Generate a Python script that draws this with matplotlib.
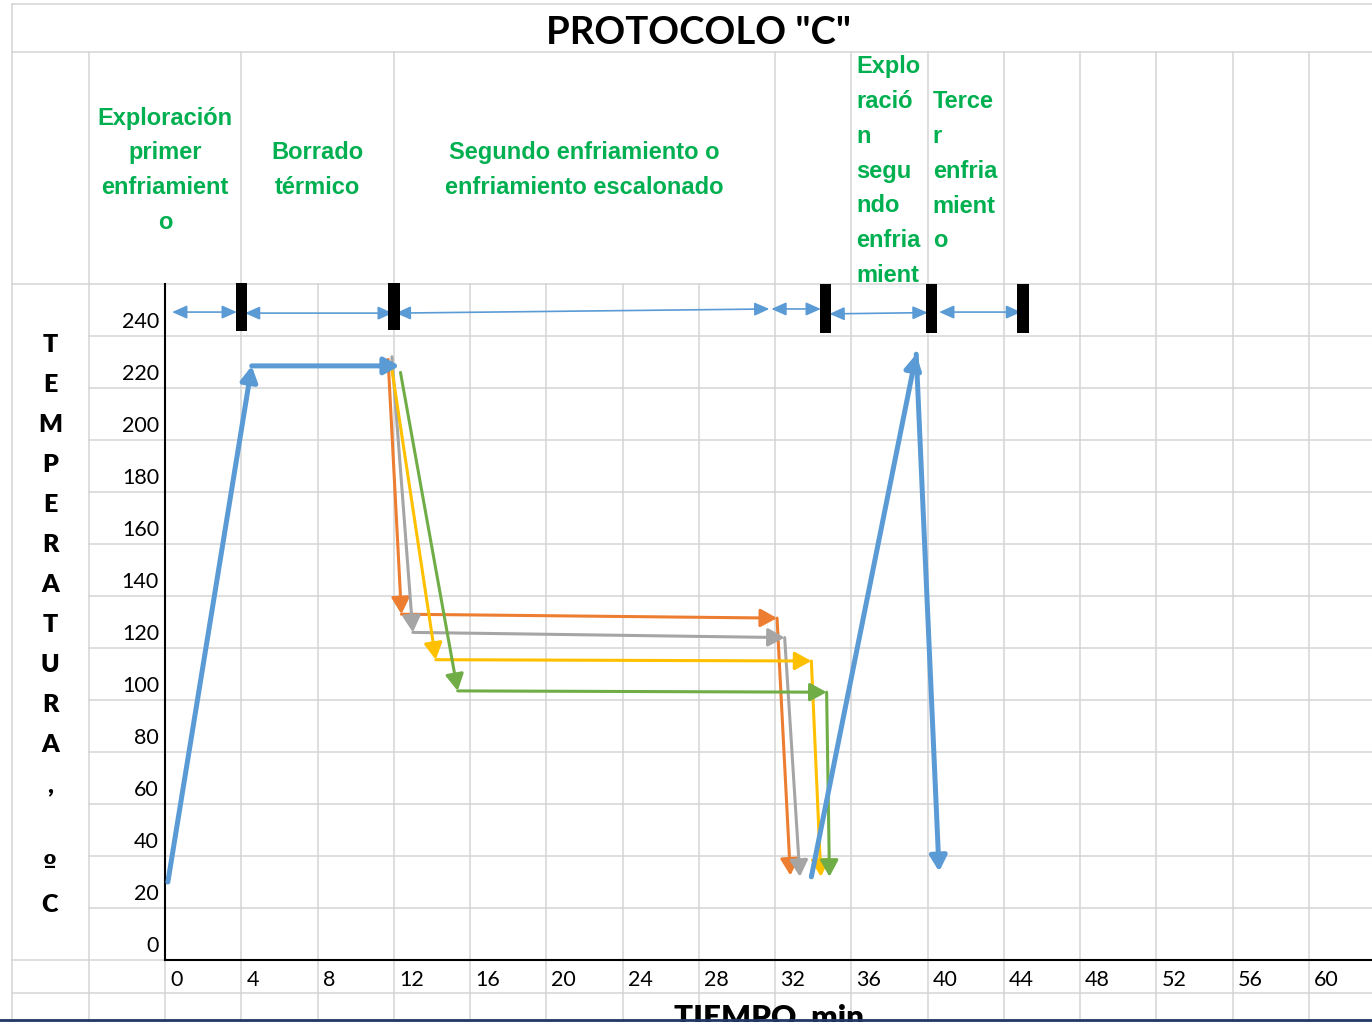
import numpy as np
import matplotlib.pyplot as plt

# --- data (time in min, temperature in ºC) ---
blue1_x = [0.15, 4.55, 12.3]
blue1_y = [30, 228.5, 228.5]
orange_x = [11.7, 12.4, 32.1, 32.8]
orange_y = [231, 133, 131.5, 32.5]
gray_x = [11.9, 13.0, 32.5, 33.3]
gray_y = [232, 126, 124, 32]
yellow_x = [11.85, 14.2, 33.9, 34.4]
yellow_y = [229.5, 115.5, 115, 32]
green_x = [12.35, 15.35, 34.7, 34.85]
green_y = [226, 103.5, 103, 32]
blue2_x = [33.9, 39.4, 40.6]
blue2_y = [32, 233, 34]

# phase arrows along the top and the black separators
span_x0 = [0.37, 4.19, 12.1, 31.8, 34.85, 40.6]
span_x1 = [3.77, 11.95, 31.7, 34.4, 40.0, 44.9]
span_y0 = [249.2, 248.8, 248.8, 250.4, 248.5, 249.2]
span_y1 = [249.2, 248.8, 250.4, 250.4, 249.0, 249.2]
sep_x = [4.0, 12.0, 34.65, 40.2, 45.0]
sep_bottom = [242, 242.5, 241, 241, 241]
sep_top = [260.5, 260.5, 260, 260, 260]

x_ticks = list(range(0, 61, 4))
y_ticks = list(range(0, 241, 20))

title = 'PROTOCOLO "C"'
ylabel = 'TEMPERATURA, ºC'
xlabel = 'TIEMPO, min.'

BLUE = '#5B9BD5'
ORANGE = '#ED7D31'
GRAY = '#A5A5A5'
YELLOW = '#FFC000'
GREEN = '#70AD47'
TXT_GREEN = '#00B050'
CELL = '#D4D4D4'

W, H = 1372, 1022
X0, Y0 = 165, 960          # pixel of (0 min, 0 ºC)
COL = 1144 / 15            # one spreadsheet column = 4 min
ROW = 52                   # one spreadsheet row = 20 ºC

fig = plt.figure(figsize=(W / 100, H / 100), dpi=100)

# background "spreadsheet" in pixel coordinates
bg = fig.add_axes([0, 0, 1, 1])
bg.set_xlim(0, W)
bg.set_ylim(H, 0)
bg.axis('off')

cols = {k: X0 + k * COL for k in range(-2, 16)}
row2_borders = [-1, 1, 3, 8, 9, 10, 11, 12, 13, 14, 15]
for k, xp in cols.items():
    if k == -2:
        top = 4
    elif k in row2_borders:
        top = 52
    else:
        top = Y0 - 13 * ROW
    if k == 0:
        top = Y0
    bg.plot([xp, xp], [top, H], color=CELL, lw=1.1, zorder=1)

for yp in [4, 52, Y0 - 13 * ROW, Y0, Y0 + 33]:
    bg.plot([cols[-2], W], [yp, yp], color=CELL, lw=1.1, zorder=1)
for j in range(1, 13):
    yp = Y0 - j * ROW
    bg.plot([cols[-1], W], [yp, yp], color=CELL, lw=1.1, zorder=1)

bg.plot([0, W], [1020.5, 1020.5], color='#1F3864', lw=2, zorder=5)

bg.text(698, 44.5, title, ha='center', va='baseline', fontsize=27.5,
        fontweight='bold', family='Lato', zorder=3)

# vertical y label, one char per line
for i, ch in enumerate(ylabel):
    fam = ['DejaVu Sans'] if ch == 'º' else ['Lato']
    bg.text(50, 352 + 40 * i, ch, ha='center', va='baseline', fontsize=18,
            fontweight='heavy', family=fam, zorder=3)

bg.text(773, 1027, xlabel, ha='center', va='baseline', fontsize=22.5,
        fontweight='heavy', family='Lato', zorder=3)

# phase headers
gkw = dict(color=TXT_GREEN, fontsize=17, fontweight='bold',
           family=['Liberation Sans', 'DejaVu Sans'], va='baseline', zorder=3)
LS = 34.7
for i, s in enumerate(['Exploración', 'primer', 'enfriamient', 'o']):
    bg.text((cols[-1] + cols[1]) / 2, 124.5 + LS * i, s, ha='center', **gkw)
for i, s in enumerate(['Borrado', 'térmico']):
    bg.text((cols[1] + cols[3]) / 2, 158.8 + LS * i, s, ha='center', **gkw)
for i, s in enumerate(['Segundo enfriamiento o', 'enfriamiento escalonado']):
    bg.text((cols[3] + cols[8]) / 2, 158.8 + LS * i, s, ha='center', **gkw)
for i, s in enumerate(['Explo', 'ració', 'n', 'segu', 'ndo', 'enfria', 'mient']):
    bg.text(cols[9] + 5, 73.5 + LS * i, s, ha='left', **gkw)
for i, s in enumerate(['Terce', 'r', 'enfria', 'mient', 'o']):
    bg.text(cols[10] + 5, 108.5 + LS * i, s, ha='left', **gkw)

# chart
ax = fig.add_axes([X0 / W, (H - Y0) / H, (W - X0) / W, 13 * ROW / H])
ax.patch.set_alpha(0)
ax.set_xlim(0, (W - X0) / COL * 4)
ax.set_ylim(0, 260)
ax.spines[['top', 'right']].set_visible(False)
for s in ['left', 'bottom']:
    ax.spines[s].set_linewidth(1.5)
    ax.spines[s].set_color('black')
ax.set_xticks([])
ax.set_yticks([])

for t in x_ticks:
    ax.annotate(str(t), xy=(t, 0), xytext=(5, -20), textcoords='offset pixels',
                ha='left', va='center', fontsize=15.5, family='Lato',
                annotation_clip=False)
for t in y_ticks:
    ax.annotate(str(t), xy=(0, t), xytext=(-6, 14), textcoords='offset pixels',
                ha='right', va='center', fontsize=15.5, family='Lato',
                annotation_clip=False)


def arrows(xs, ys, color, lw, hl, hw):
    for i in range(len(xs) - 1):
        ax.annotate('', xy=(xs[i + 1], ys[i + 1]), xytext=(xs[i], ys[i]),
                    arrowprops=dict(arrowstyle=f'-|>,head_length={hl},head_width={hw}',
                                    color=color, lw=lw, shrinkA=0, shrinkB=0,
                                    mutation_scale=10),
                    annotation_clip=False)


arrows(orange_x, orange_y, ORANGE, 2.2, 1.0, 0.55)
arrows(gray_x, gray_y, GRAY, 2.2, 1.0, 0.55)
arrows(yellow_x, yellow_y, YELLOW, 2.2, 1.0, 0.55)
arrows(green_x, green_y, GREEN, 2.2, 1.0, 0.55)
arrows(blue1_x, blue1_y, BLUE, 3.6, 0.9, 0.5)
arrows(blue2_x, blue2_y, BLUE, 3.6, 0.9, 0.5)

for x0, x1, y0, y1 in zip(span_x0, span_x1, span_y0, span_y1):
    ax.annotate('', xy=(x1, y1), xytext=(x0, y0),
                arrowprops=dict(arrowstyle='<|-|>,head_length=0.9,head_width=0.4',
                                color=BLUE, lw=1.2, shrinkA=0, shrinkB=0,
                                mutation_scale=10),
                annotation_clip=False)

ax.bar(sep_x, np.subtract(sep_top, sep_bottom), bottom=sep_bottom, width=0.6,
       color='black', clip_on=False, zorder=4)

fig.savefig('out.png', dpi=100)
